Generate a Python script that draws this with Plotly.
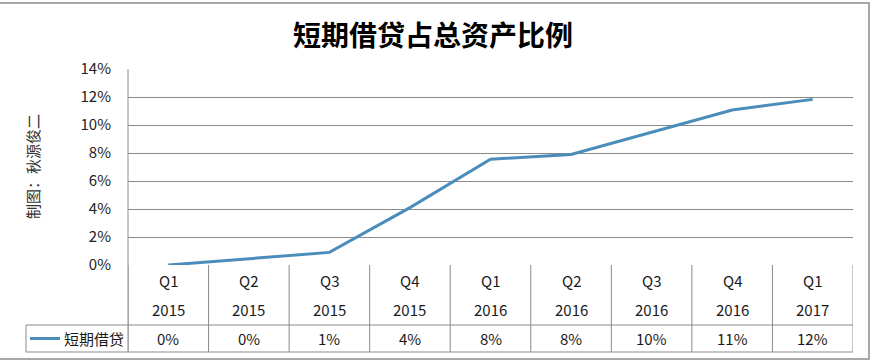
import plotly.graph_objects as go

# ---- data ----
quarters = ["Q1", "Q2", "Q3", "Q4", "Q1", "Q2", "Q3", "Q4", "Q1"]
years = ["2015", "2015", "2015", "2015", "2016", "2016", "2016", "2016", "2017"]
series_name = "短期借贷"
ratio = [0.0000, 0.0045, 0.0090, 0.0410, 0.0755, 0.0790, 0.0950, 0.1107, 0.1183]
y_ticks = [0, 0.02, 0.04, 0.06, 0.08, 0.10, 0.12, 0.14]
title_text = "短期借贷占总资产比例"
y_label = "制图：秋源俊二"

W, H = 873, 363
L, R, T, B = 128, 853, 69, 265  # plot area in pixels
LINE_COLOR = "#4a8dbb"
GRID = "#8a8a8a"
FONT = "Noto Sans CJK SC"
TXT = "#1a1a1a"


def px(xp):
    return (xp - L) / (R - L)


def py(yp):
    return (B - yp) / (B - T)


n = len(ratio)
xs = list(range(n))

fig = go.Figure()
fig.add_trace(go.Scatter(x=xs, y=ratio, mode="lines", name=series_name,
                         line=dict(color=LINE_COLOR, width=3), showlegend=False))

shapes = []
for k in range(n + 1):
    shapes.append(dict(type="line", xref="x", yref="paper", x0=k - 0.5, x1=k - 0.5,
                       y0=py(265), y1=py(352), line=dict(color=GRID, width=1)))
for yp in (325, 352):
    shapes.append(dict(type="line", xref="paper", yref="paper", x0=px(26), x1=px(853),
                       y0=py(yp), y1=py(yp), line=dict(color=GRID, width=1)))
shapes.append(dict(type="line", xref="paper", yref="paper", x0=px(26), x1=px(26),
                   y0=py(325), y1=py(352), line=dict(color=GRID, width=1)))
shapes.append(dict(type="line", xref="paper", yref="paper", x0=px(30), x1=px(60),
                   y0=py(338.5), y1=py(338.5), line=dict(color=LINE_COLOR, width=3)))
shapes.append(dict(type="rect", xref="paper", yref="paper", x0=px(-1), x1=px(869),
                   y0=py(3), y1=py(359), line=dict(color="#8c8c8c", width=1.5),
                   fillcolor="rgba(0,0,0,0)", layer="below"))
shapes.append(dict(type="line", xref="paper", yref="paper", x0=0, x1=0, y0=py(352), y1=1,
                   line=dict(color=GRID, width=1)))


def ann(x, xref, yp, text, size=15, **kw):
    d = dict(x=x, xref=xref, y=py(yp), yref="paper", text=text, showarrow=False,
             xanchor="center", yanchor="middle",
             font=dict(family=FONT, size=size, color=TXT))
    d.update(kw)
    return d


annotations = []
for i in range(n):
    annotations.append(ann(i, "x", 280, quarters[i]))
    annotations.append(ann(i, "x", 309, years[i]))
    annotations.append(ann(i, "x", 338.5, f"{int(ratio[i] * 100 + 0.5)}%"))
annotations.append(ann(px(62), "paper", 338.5, series_name, xanchor="left"))
annotations.append(ann(px(32), "paper", 167, y_label, size=15, textangle=-90,
                       font=dict(family=FONT, size=15, color="#333")))
annotations.append(ann(px(433), "paper", 34, f"<b>{title_text}</b>",
                       font=dict(family=FONT, size=28, color="#000", weight=900)))

fig.update_layout(
    width=W, height=H,
    margin=dict(l=L, r=W - R, t=T, b=H - B, pad=0),
    paper_bgcolor="white", plot_bgcolor="white",
    shapes=shapes, annotations=annotations,
    xaxis=dict(range=[-0.5, n - 0.5], showticklabels=False, showgrid=False, zeroline=False,
               showline=False, ticks="", fixedrange=True),
    yaxis=dict(range=[0, 0.14], tickvals=y_ticks, tickformat=".0%", showgrid=True,
               gridcolor=GRID, gridwidth=1, zeroline=False, showline=False,
               ticks="", ticklen=0, ticklabelstandoff=16,
               tickfont=dict(family=FONT, size=15, color="#222"), fixedrange=True),
    showlegend=False,
)

fig.write_html("out.html", config={"displayModeBar": False},
               post_script="document.body.style.margin='0';")
